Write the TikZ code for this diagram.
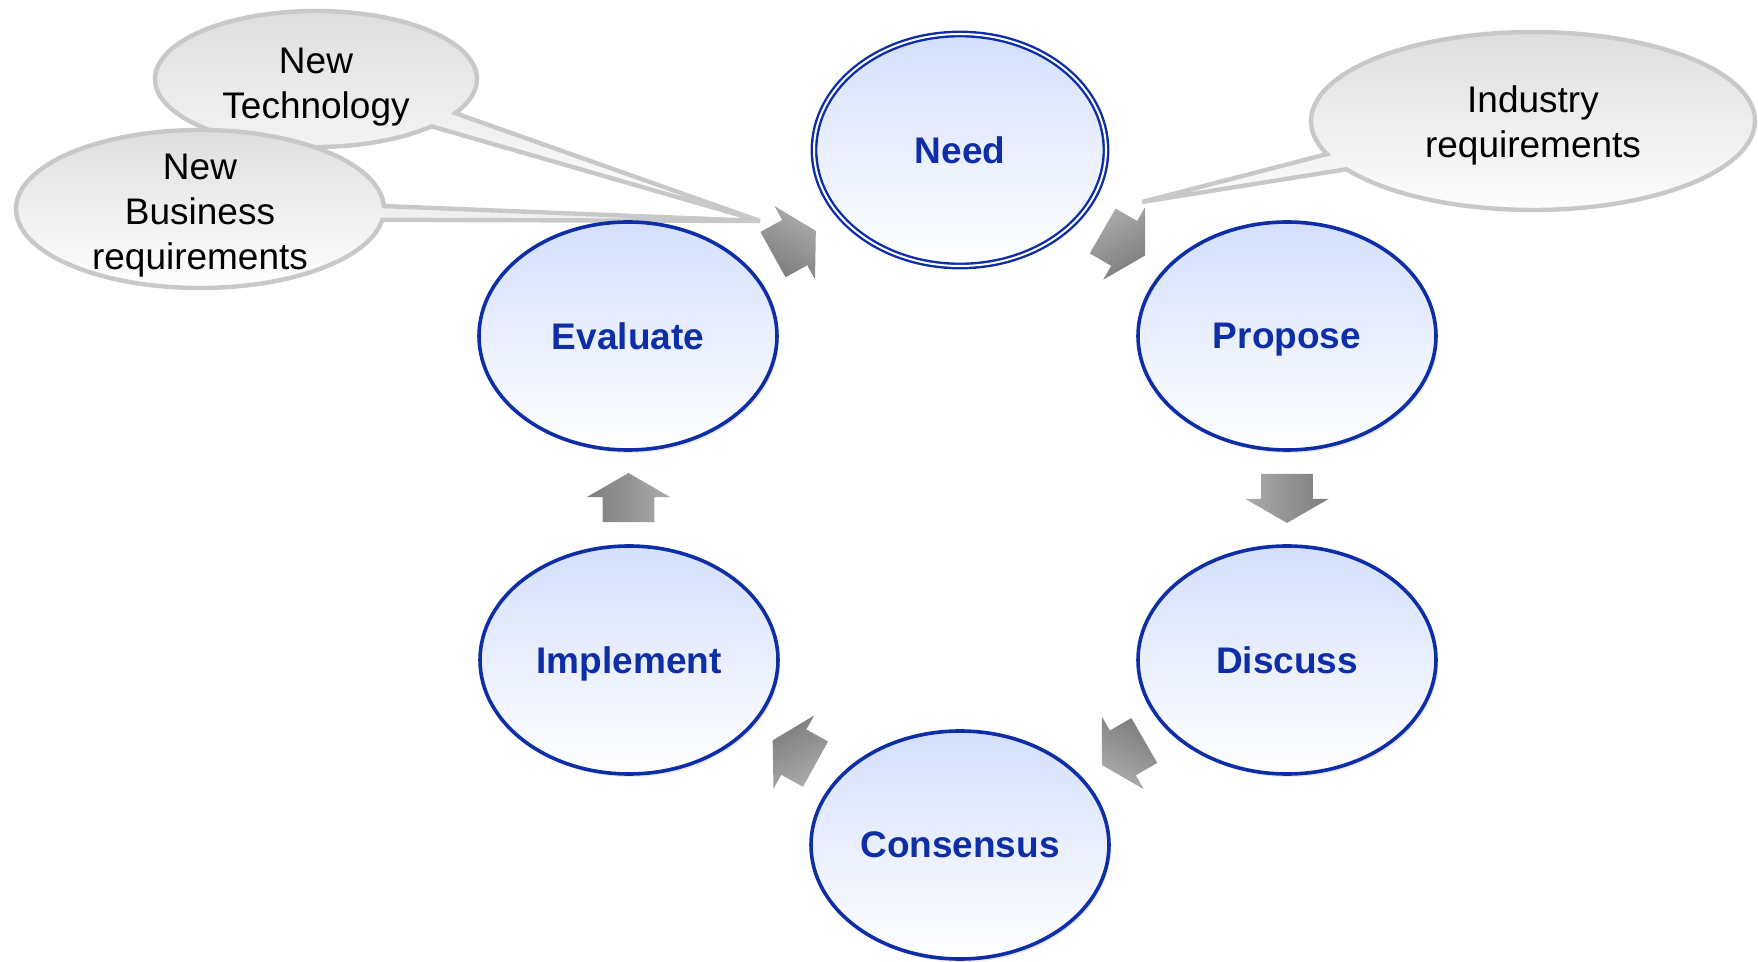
\documentclass[tikz,border=0pt]{standalone}
\usepackage{fontspec}
\setmainfont{Liberation Sans}
\usetikzlibrary{positioning,calc,shapes.geometric,shapes.arrows,shapes.callouts,shadows}

\definecolor{stageblue}{RGB}{14,46,168}
\definecolor{stagetop}{RGB}{212,223,251}
\definecolor{balloonline}{RGB}{200,200,200}
\definecolor{balloontop}{RGB}{222,222,222}
\definecolor{arrowtop}{RGB}{172,172,172}
\definecolor{arrowbot}{RGB}{124,124,124}

\begin{document}
\begin{tikzpicture}[x=0.5pt,y=-0.5pt,
    stage/.style={ellipse, draw=stageblue, line width=1.8pt,
        top color=stagetop, bottom color=white,
        minimum width=149pt, minimum height=114pt, inner sep=0pt, text depth=0pt,
        font=\fontsize{18.5}{22}\selectfont\bfseries, text=stageblue,
        drop shadow={shadow xshift=1pt, shadow yshift=-1.5pt, opacity=0.18}},
    balloon/.style={ellipse callout, draw=balloonline, line width=2.2pt,
        top color=balloontop, bottom color=white, inner sep=0pt},
    balloontext/.style={align=center, inner sep=0pt, font=\fontsize{18.5}{22.5}\selectfont},
    blockarrow/.style={single arrow, draw=none, inner xsep=0pt, inner ysep=12.75pt,
        minimum height=24.5pt, minimum width=41.5pt,
        single arrow head extend=8pt, single arrow tip angle=120,
        rotate=#1, xshift=-3.5pt,
        top color=arrowtop, bottom color=arrowbot, shading angle={-(#1)}}]
    \useasboundingbox (0,0) rectangle (1758,962);

    %%%%% THE BALLOONS
    \coordinate (leftTip) at (760,221);
    \coordinate (rightTip) at (1142,202);
    \node[balloon, minimum width=161pt, minimum height=68pt,
        callout absolute pointer={(leftTip)}, callout pointer arc=14]
        (newTech) at (316,79) {};
    \node[balloontext] (newTechText) at ([yshift=-4pt]newTech.center) {New\\Technology};
    \node[balloon, minimum width=184pt, minimum height=79pt,
        callout absolute pointer={(leftTip)}, callout pointer arc=10]
        (newBiz) at (200,209) {};
    \node[balloontext] (newBizText) at ([yshift=-3.4pt]newBiz.center) {New\\Business\\requirements};
    \node[balloon, minimum width=222pt, minimum height=89pt,
        callout absolute pointer={(rightTip)}, callout pointer arc=11]
        (industry) at (1533,121) {};
    \node[balloontext] (industryText) at ([yshift=-2.2pt]industry.center) {Industry\\requirements};

    %%%%% THE CYCLE
    \node[stage, double=white, line width=1.2pt, double distance=1pt,
        minimum width=146pt, minimum height=116pt] (need) at (960,150) {Need};
    \node[stage] (propose) at (1287,336) {Propose};
    \node[stage] (discuss) at (1287,660) {Discuss};
    \node[stage] (consensus) at (960,845) {Consensus};
    \node[stage] (implement) at (629,660) {Implement};
    \node[stage] (evaluate) at (628,336) {Evaluate};

    %%%% ARROWS BETWEEN THE STAGES
    \node[blockarrow=-30] (needToPropose) at ($(need)!0.5!(propose)$) {};
    \node[blockarrow=-90] (proposeToDiscuss) at ($(propose)!0.5!(discuss)$) {};
    \node[blockarrow=-150] (discussToConsensus) at ($(discuss)!0.5!(consensus)$) {};
    \node[blockarrow=151] (consensusToImplement) at ($(consensus)!0.5!(implement)$) {};
    \node[blockarrow=90] (implementToEvaluate) at ($(implement)!0.5!(evaluate)$) {};
    \node[blockarrow=29] (evaluateToNeed) at ($(evaluate)!0.5!(need)$) {};
\end{tikzpicture}
\end{document}
